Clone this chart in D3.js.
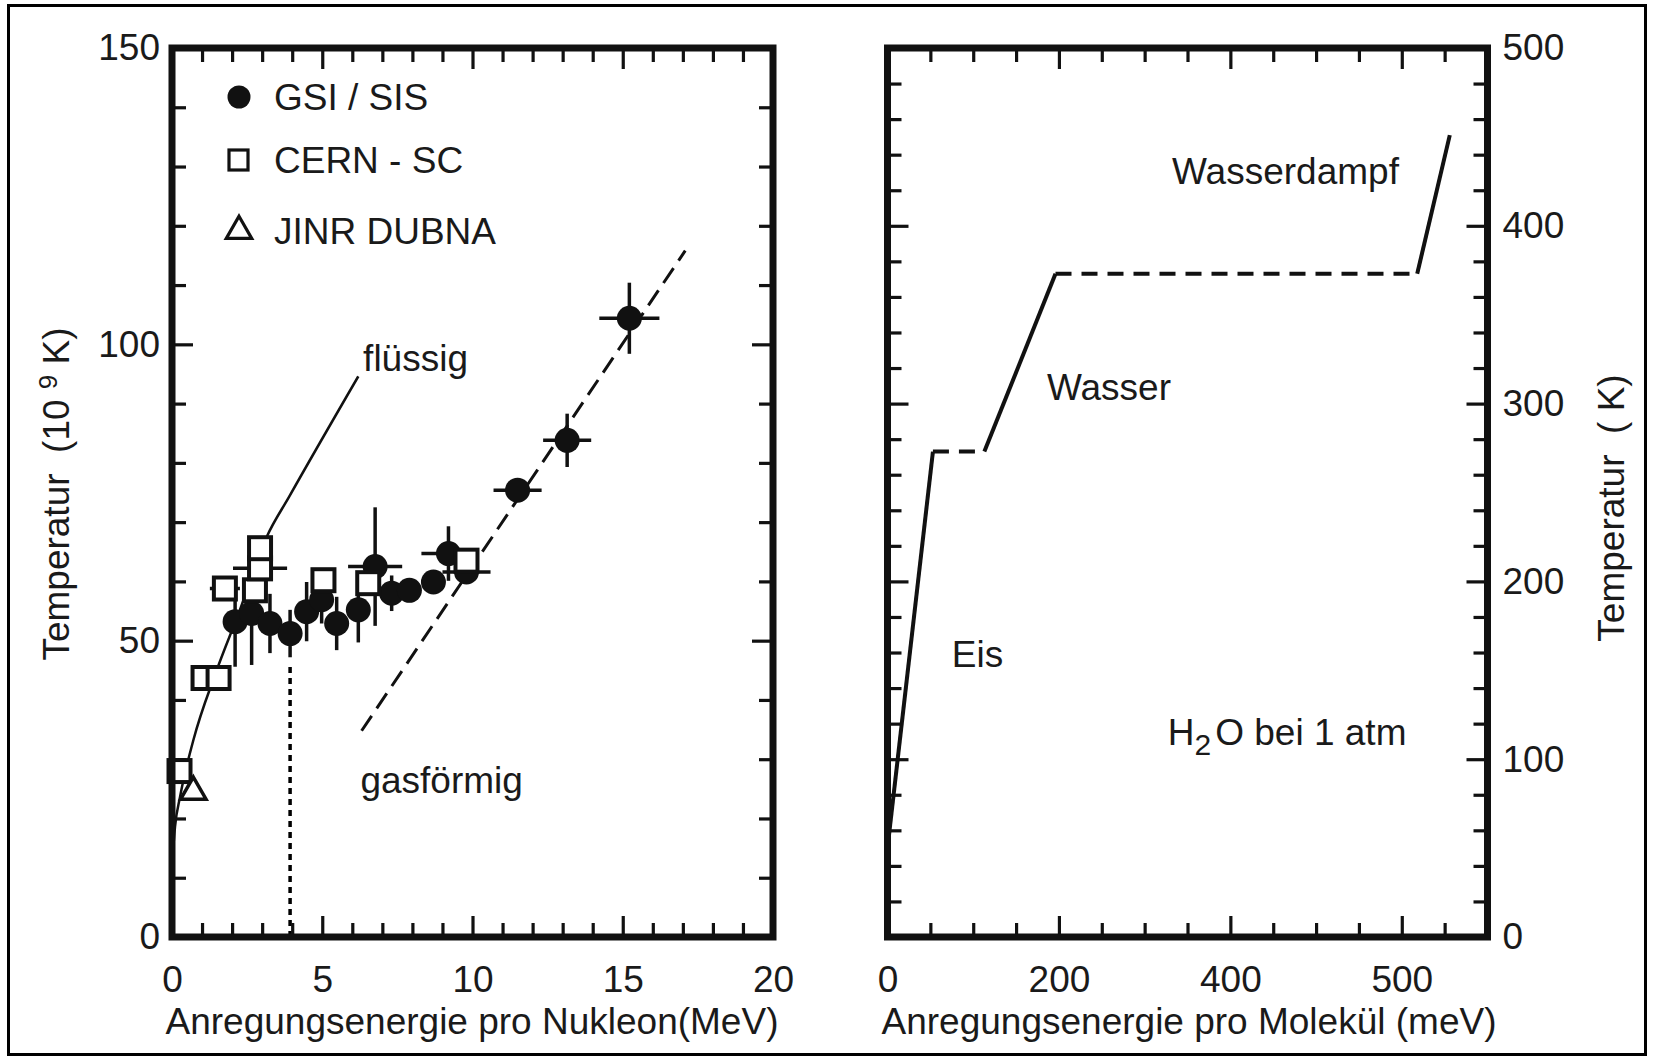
<!DOCTYPE html>
<html>
<head>
<meta charset="utf-8">
<script src="https://cdn.jsdelivr.net/npm/d3@7"></script>
<style>
  body { margin: 0; background: #fff; }
  svg text { font-family: "Liberation Sans", Arial, sans-serif; fill: #1a1a1a; }
</style>
</head>
<body>
<svg id="chart"></svg>
<script>
// ---- Kernmaterie (linkes Bild) ----
const gsiE  = [2.10, 2.65, 3.26, 3.93, 4.48, 4.98, 5.48, 6.20, 6.76, 7.31, 7.90, 8.70, 9.20, 9.80, 11.50, 13.15, 15.22];
const gsiT  = [53.2, 54.6, 52.9, 51.2, 54.9, 56.9, 52.9, 55.2, 62.5, 58.0, 58.5, 59.9, 64.7, 61.6, 75.4, 83.8, 104.4];
const gsiDE = [0.25, 0.25, 0.25, 0.25, 0.25, 0.25, 0.25, 0.25, 0.9, 0.5, 0.3, 0.25, 0.9, 0.8, 0.8, 0.8, 1.0];
const gsiDT = [7.6, 8.7, 5.0, 4.0, 5.0, 4.0, 4.5, 5.5, 10.0, 3.0, 2.0, 2.0, 4.6, 2.0, 2.0, 4.5, 6.0];

const cernE  = [0.25, 1.05, 1.55, 1.76, 2.76, 2.93, 2.93, 5.04, 6.53, 9.80];
const cernT  = [28.0, 43.7, 43.7, 58.8, 58.5, 62.2, 65.6, 60.2, 59.7, 63.5];
const cernDE = [0, 0, 0, 0.5, 0, 0.9, 0, 0, 0, 0];

const jinrE = [0.71];
const jinrT = [24.5];

const fluessigE = [0, 0.10, 0.27, 0.71, 1.45, 2.26, 3.15, 3.90, 6.20];
const fluessigT = [12, 18.6, 23.7, 33.2, 44.5, 55.2, 67.5, 74.3, 94.6];

const gasE = [6.31, 17.08];
const gasT = [34.8, 115.8];

const plateauE = [3.93, 3.93];
const plateauT = [0, 46];

const nukXTicks = [0, 5, 10, 15, 20];
const nukYTicks = [0, 50, 100, 150];

// ---- Wasser (rechtes Bild) ----
const wasserE = [0, 53, 113, 196, 618, 656];
const wasserT = [50, 273, 273, 373, 373, 451];
const wasserSeg = ['solid', 'dashed', 'solid', 'dashed', 'solid'];

const molXTicks  = [0, 200, 400, 600];
const molXLabels = ['0', '200', '400', '500'];
const molYTicks  = [0, 100, 200, 300, 400, 500];

const legendNames = ['GSI / SIS', 'CERN - SC', 'JINR DUBNA'];

// -------------------------------------------------------------
const W = 1653, H = 1060;
const FS = '37px';

const svg = d3.select('#chart').attr('width', W).attr('height', H);

svg.append('rect')
    .attr('x', 8.5).attr('y', 5.5)
    .attr('width', 1637).attr('height', 1049)
    .attr('fill', 'none').attr('stroke', '#000').attr('stroke-width', 3);

const xN = d3.scaleLinear().domain([0, 20]).range([172, 773]);
const yN = d3.scaleLinear().domain([0, 150]).range([937, 48]);
const xW = d3.scaleLinear().domain([0, 700]).range([887.5, 1487.5]);
const yW = d3.scaleLinear().domain([0, 500]).range([937, 48]);

// one row of ticks, pointing into the box
function tickRow(parent, make, pos, values, len, fmt, pad){
    const ax = make()
        .tickValues(values)
        .tickSize(-len)
        .tickPadding(pad || 0)
        .tickFormat(fmt || (() => ''));
    const g = parent.append('g').attr('transform', pos).call(ax);
    g.select('.domain').remove();
    g.selectAll('line').attr('stroke', '#111').attr('stroke-width', 3.2);
    g.selectAll('text').style('font-size', FS);
    return g;
}

function box(parent, x, y, xMinor, xMajor, yMinor, yMajor){
    const [x0, x1] = x.range(), [y0, y1] = y.range();
    const MIN = 14, MAJ = 21;
    tickRow(parent, () => d3.axisBottom(x), `translate(0,${y0})`, xMinor, MIN);
    tickRow(parent, () => d3.axisBottom(x), `translate(0,${y0})`, xMajor, MAJ);
    tickRow(parent, () => d3.axisTop(x), `translate(0,${y1})`, xMinor, MIN);
    tickRow(parent, () => d3.axisTop(x), `translate(0,${y1})`, xMajor, MAJ);
    tickRow(parent, () => d3.axisLeft(y), `translate(${x0},0)`, yMinor, MIN);
    tickRow(parent, () => d3.axisLeft(y), `translate(${x0},0)`, yMajor, MAJ);
    tickRow(parent, () => d3.axisRight(y), `translate(${x1},0)`, yMinor, MIN);
    tickRow(parent, () => d3.axisRight(y), `translate(${x1},0)`, yMajor, MAJ);

    parent.append('rect')
        .attr('x', x0).attr('y', y1)
        .attr('width', x1 - x0).attr('height', y0 - y1)
        .attr('fill', 'none').attr('stroke', '#111').attr('stroke-width', 7);
}

// ================= linkes Bild =================
const left = svg.append('g');

// tick labels
tickRow(left, () => d3.axisBottom(xN), `translate(0,${yN(0)})`, nukXTicks, 0, d => d, 29);
tickRow(left, () => d3.axisLeft(yN), `translate(${xN(0)},0)`, nukYTicks, 0, d => d, 12);

const lineN = d3.line().x(d => xN(d[0])).y(d => yN(d[1]));

left.append('path')
    .datum(d3.zip(fluessigE, fluessigT))
    .attr('d', lineN.curve(d3.curveMonotoneX))
    .attr('fill', 'none').attr('stroke', '#111').attr('stroke-width', 2.5);

left.append('path')
    .datum(d3.zip(gasE, gasT))
    .attr('d', d3.line().x(d => xN(d[0])).y(d => yN(d[1])))
    .attr('fill', 'none').attr('stroke', '#111').attr('stroke-width', 3)
    .attr('stroke-dasharray', '18,9');

left.append('path')
    .datum(d3.zip(plateauE, plateauT))
    .attr('d', d3.line().x(d => xN(d[0])).y(d => yN(d[1])))
    .attr('fill', 'none').attr('stroke', '#000').attr('stroke-width', 3.5)
    .attr('stroke-dasharray', '6,5');

// GSI with error bars
const gsi = d3.range(gsiE.length).map(i => ({e: gsiE[i], t: gsiT[i], de: gsiDE[i], dt: gsiDT[i]}));
const gsiG = left.append('g');
gsiG.selectAll('line.h').data(gsi).enter().append('line')
    .attr('x1', d => xN(d.e - d.de)).attr('x2', d => xN(d.e + d.de))
    .attr('y1', d => yN(d.t)).attr('y2', d => yN(d.t))
    .attr('stroke', '#111').attr('stroke-width', 3.5);
gsiG.selectAll('line.v').data(gsi).enter().append('line')
    .attr('x1', d => xN(d.e)).attr('x2', d => xN(d.e))
    .attr('y1', d => yN(d.t - d.dt)).attr('y2', d => yN(d.t + d.dt))
    .attr('stroke', '#111').attr('stroke-width', 3.5);
gsiG.selectAll('circle').data(gsi).enter().append('circle')
    .attr('cx', d => xN(d.e)).attr('cy', d => yN(d.t))
    .attr('r', 12.5).attr('fill', '#111');

// CERN open squares
const cern = d3.range(cernE.length).map(i => ({e: cernE[i], t: cernT[i], de: cernDE[i]}));
const cernG = left.append('g');
cernG.selectAll('line').data(cern.filter(d => d.de > 0)).enter().append('line')
    .attr('x1', d => xN(d.e - d.de)).attr('x2', d => xN(d.e + d.de))
    .attr('y1', d => yN(d.t)).attr('y2', d => yN(d.t))
    .attr('stroke', '#111').attr('stroke-width', 3.5);
cernG.selectAll('rect').data(cern).enter().append('rect')
    .attr('x', d => xN(d.e) - 11).attr('y', d => yN(d.t) - 11)
    .attr('width', 22).attr('height', 22)
    .attr('fill', '#fff').attr('stroke', '#111').attr('stroke-width', 4);

// JINR triangle
const tri = d3.symbol().type(d3.symbolTriangle).size(280);
left.selectAll('path.jinr').data(d3.zip(jinrE, jinrT)).enter().append('path')
    .attr('transform', d => `translate(${xN(d[0])},${yN(d[1])})`)
    .attr('d', tri)
    .attr('fill', '#fff').attr('stroke', '#111').attr('stroke-width', 3.5);

box(left, xN, yN,
    d3.range(1, 20).filter(v => v % 5), [5, 10, 15],
    d3.range(10, 150, 10).filter(v => v % 50), [50, 100]);

// legend
const legY = [97, 160, 231];
const leg = left.append('g');
leg.append('circle').attr('cx', 239).attr('cy', legY[0]).attr('r', 11.5).attr('fill', '#111');
leg.append('rect').attr('x', 229).attr('y', legY[1] - 10).attr('width', 19).attr('height', 20)
    .attr('fill', '#fff').attr('stroke', '#111').attr('stroke-width', 3.2);
leg.append('path').attr('transform', `translate(239,${legY[2]})`).attr('d', tri)
    .attr('fill', '#fff').attr('stroke', '#111').attr('stroke-width', 3.2);
leg.selectAll('text').data(legendNames).enter().append('text')
    .attr('x', 274).attr('y', (d, i) => legY[i] + 13)
    .style('font-size', FS).text(d => d);

left.append('text').attr('x', xN(6.36)).attr('y', yN(95.5))
    .style('font-size', FS).text('flüssig');
left.append('text').attr('x', xN(6.27)).attr('y', yN(24.3))
    .style('font-size', FS).text('gasförmig');

left.append('text')
    .attr('x', 472).attr('y', 1034).attr('text-anchor', 'middle')
    .style('font-size', FS).text('Anregungsenergie pro Nukleon(MeV)');

const ytl = left.append('text')
    .attr('transform', 'translate(69,494) rotate(-90)')
    .attr('text-anchor', 'middle').style('font-size', FS)
    .attr('xml:space', 'preserve');
ytl.append('tspan').text('Temperatur  (10 ');
ytl.append('tspan').attr('dy', -12).style('font-size', '26px').text('9');
ytl.append('tspan').attr('dy', 12).text(' K)');

// ================= rechtes Bild =================
const right = svg.append('g');

tickRow(right, () => d3.axisBottom(xW), `translate(0,${yW(0)})`, molXTicks, 0,
    d => molXLabels[molXTicks.indexOf(d)], 29);
tickRow(right, () => d3.axisRight(yW), `translate(${xW(700)},0)`, molYTicks, 0, d => d, 15);

const segs = d3.range(wasserSeg.length).map(i => ({
    pts: [[wasserE[i], wasserT[i]], [wasserE[i + 1], wasserT[i + 1]]],
    style: wasserSeg[i]
}));
right.selectAll('path.seg').data(segs).enter().append('path')
    .attr('d', d => d3.line().x(p => xW(p[0])).y(p => yW(p[1]))(d.pts))
    .attr('fill', 'none').attr('stroke', '#111').attr('stroke-width', 4)
    .attr('stroke-dasharray', d => d.style === 'dashed' ? '16,10' : null);

box(right, xW, yW,
    d3.range(50, 700, 50).filter(v => v % 200), [200, 400, 600],
    d3.range(20, 500, 20).filter(v => v % 100), [100, 200, 300, 400]);

right.append('text').attr('x', xW(332)).attr('y', yW(423.5)).style('font-size', FS).text('Wasserdampf');
right.append('text').attr('x', xW(186)).attr('y', yW(302)).style('font-size', FS).text('Wasser');
right.append('text').attr('x', xW(75)).attr('y', yW(152)).style('font-size', FS).text('Eis');

const h2o = right.append('text').attr('x', xW(327)).attr('y', yW(108)).style('font-size', FS);
h2o.append('tspan').text('H');
h2o.append('tspan').attr('dy', 10).style('font-size', '30px').text('2');
h2o.append('tspan').attr('dy', -10).attr('dx', 4).text('O bei 1 atm');

right.append('text')
    .attr('x', 1189).attr('y', 1034).attr('text-anchor', 'middle')
    .style('font-size', FS).text('Anregungsenergie pro Molekül (meV)');

right.append('text')
    .attr('transform', 'translate(1624,508) rotate(-90)')
    .attr('text-anchor', 'middle').style('font-size', FS)
    .attr('xml:space', 'preserve')
    .text('Temperatur  ( K)');
</script>
</body>
</html>
